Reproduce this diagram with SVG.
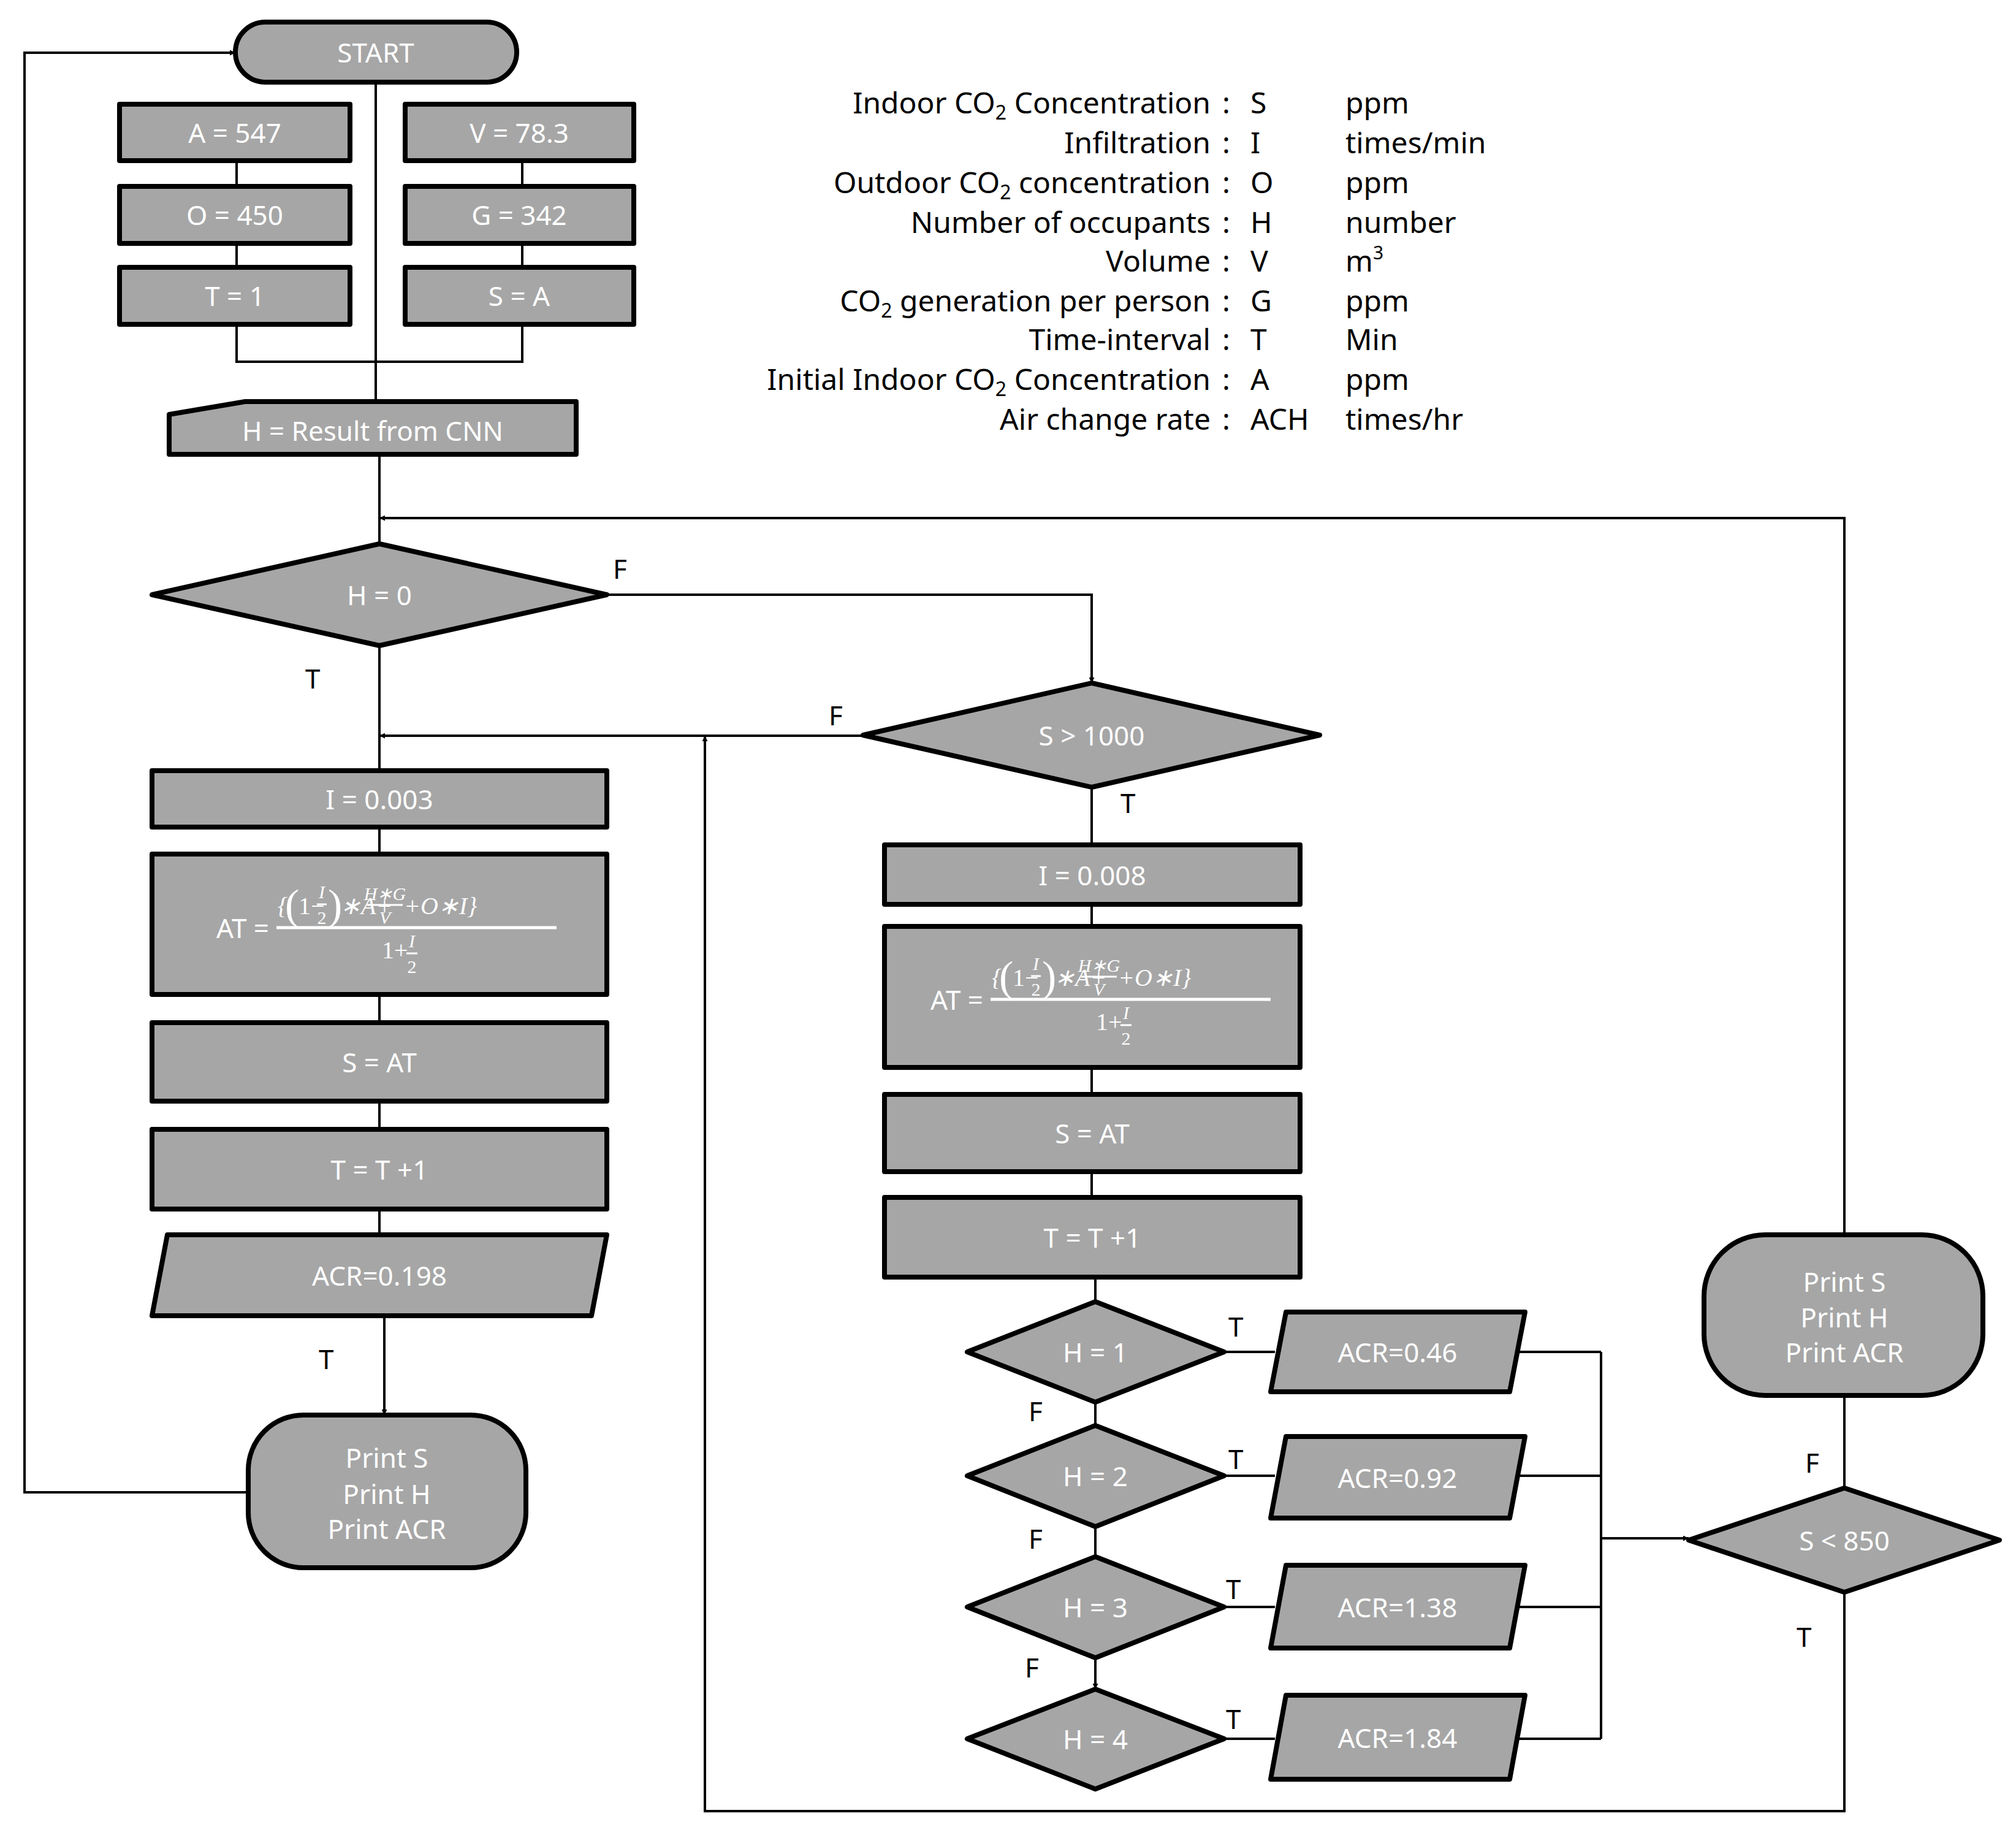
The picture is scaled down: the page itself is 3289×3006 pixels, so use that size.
<svg xmlns="http://www.w3.org/2000/svg" width="3289" height="3006" viewBox="0 0 3289 3006">
<style>
.n{fill:#a6a6a6;stroke:#000;stroke-width:8;stroke-linejoin:round}
.t{font-family:"Noto Sans","Open Sans",sans-serif;font-size:44px;fill:#fff;text-anchor:middle;dominant-baseline:central}
.l{font-family:"Noto Sans","Open Sans",sans-serif;font-size:44px;fill:#000;dominant-baseline:central}
.lg{font-family:"Noto Sans","Open Sans",sans-serif;font-size:48px;fill:#000}
.c{fill:none;stroke:#000;stroke-width:4}
.m{font-family:"Liberation Serif",serif;font-style:italic;font-size:40px;fill:#fff}
.ms{font-family:"Liberation Serif",serif;font-style:italic;font-size:30px;fill:#fff;text-anchor:middle}
.mb{stroke:#fff;stroke-width:5}
.mbs{stroke:#fff;stroke-width:3}
</style>
<defs>
<marker id="ah" viewBox="0 0 10 10" refX="10" refY="5" markerWidth="9" markerHeight="9" markerUnits="userSpaceOnUse" orient="auto"><path d="M0,0L10,5L0,10z" fill="#000"/></marker>
<g id="formula">
<text x="-12" y="0" class="t" style="text-anchor:end">AT =</text>
<line x1="0" y1="0" x2="457" y2="0" class="mb"/>
<text x="2" y="-22" class="m">{</text>
<text x="14" y="-14" class="m" style="font-size:70px;font-style:normal">(</text>
<text x="36" y="-22" class="m" style="font-style:normal">1−</text>
<text x="74" y="-48" class="ms">I</text>
<line x1="66" y1="-38" x2="82" y2="-38" class="mbs"/>
<text x="74" y="-6" class="ms" style="font-style:normal">2</text>
<text x="84" y="-14" class="m" style="font-size:70px;font-style:normal">)</text>
<text x="104" y="-22" class="m">∗A+</text>
<text x="177" y="-45" class="ms">H∗G</text>
<line x1="148" y1="-37" x2="206" y2="-37" class="mbs"/>
<text x="177" y="-6" class="ms">V</text>
<text x="208" y="-22" class="m">+O∗I}</text>
<text x="172" y="50" class="m" style="font-style:normal">1+</text>
<text x="221" y="32" class="ms">I</text>
<line x1="212" y1="42" x2="230" y2="42" class="mbs"/>
<text x="221" y="74" class="ms" style="font-style:normal">2</text>
</g>
</defs>

<g id="connectors">
<path class="c" d="M613,134V655"/>
<path class="c" d="M386,529V590H852V529"/>
<path class="c" d="M386,262V304M386,397V436M852,262V304M852,397V436"/>
<path class="c" d="M619,741V887"/>
<path class="c" d="M619,1053V1257"/>
<path class="c" d="M619,1349V1393M619,1622V1668M619,1796V1842M619,1972V2014"/>
<path class="c" d="M627,2146V2308" marker-end="url(#ah)"/>
<path class="c" d="M405,2434H40V86H384" marker-end="url(#ah)"/>
<path class="c" d="M3009,2014V845H619" marker-end="url(#ah)"/>
<path class="c" d="M990,970H1781V1114" marker-end="url(#ah)"/>
<path class="c" d="M1408,1200H619" marker-end="url(#ah)"/>
<path class="c" d="M3009,2597V2954H1150V1200" marker-end="url(#ah)"/>
<path class="c" d="M1781,1284V1378M1781,1475V1511M1781,1741V1785M1781,1911V1953M1787,2083V2123"/>
<path class="c" d="M1787,2287V2325M1787,2490V2539"/>
<path class="c" d="M1787,2704V2755" marker-end="url(#ah)"/>
<path class="c" d="M1997,2205H2080M1997,2407H2080M1997,2621H2080M1997,2836H2080"/>
<path class="c" d="M2478,2205H2612M2478,2407H2612M2478,2621H2612M2478,2836H2612M2612,2205V2836"/>
<path class="c" d="M2612,2509H2755" marker-end="url(#ah)"/>
<path class="c" d="M3009,2427V2276"/>
</g>

<g id="start"><rect class="n" x="384" y="36" width="459" height="98" rx="49"/><text class="t" x="613" y="85">START</text></g>
<g id="a"><rect class="n" x="195" y="170" width="376" height="92"/><text class="t" x="383" y="216">A = 547</text></g>
<g id="o"><rect class="n" x="195" y="304" width="376" height="93"/><text class="t" x="383" y="350">O = 450</text></g>
<g id="tt"><rect class="n" x="195" y="436" width="376" height="93"/><text class="t" x="383" y="482">T = 1</text></g>
<g id="v"><rect class="n" x="661" y="170" width="373" height="92"/><text class="t" x="847" y="216">V = 78.3</text></g>
<g id="g"><rect class="n" x="661" y="304" width="373" height="93"/><text class="t" x="847" y="350">G = 342</text></g>
<g id="s"><rect class="n" x="661" y="436" width="373" height="93"/><text class="t" x="847" y="482">S = A</text></g>
<g id="h"><path class="n" d="M276,676L400,655H940V741H276Z"/><text class="t" x="608" y="702">H = Result from CNN</text></g>

<g id="d0"><path class="n" d="M248,970L619,887L990,970L619,1053Z"/><text class="t" x="619" y="970">H = 0</text></g>
<g id="i1"><rect class="n" x="248" y="1257" width="742" height="92"/><text class="t" x="619" y="1303">I = 0.003</text></g>
<g id="at1"><rect class="n" x="248" y="1393" width="742" height="229"/><use href="#formula" transform="translate(451,1513)"/></g>
<g id="sa1"><rect class="n" x="248" y="1668" width="742" height="128"/><text class="t" x="619" y="1732">S = AT</text></g>
<g id="tp1"><rect class="n" x="248" y="1842" width="742" height="130"/><text class="t" x="619" y="1907">T = T +1</text></g>
<g id="acr1"><path class="n" d="M273,2014H990L965,2146H248Z"/><text class="t" x="619" y="2080">ACR=0.198</text></g>
<g id="p1"><rect class="n" x="405" y="2308" width="453" height="249" rx="90"/><text class="t" x="631" y="2377">Print S</text><text class="t" x="631" y="2436">Print H</text><text class="t" x="631" y="2493">Print ACR</text></g>

<g id="d1000"><path class="n" d="M1408,1199L1781,1114L2153,1199L1781,1284Z"/><text class="t" x="1781" y="1199">S &gt; 1000</text></g>
<g id="i2"><rect class="n" x="1443" y="1378" width="678" height="97"/><text class="t" x="1782" y="1427">I = 0.008</text></g>
<g id="at2"><rect class="n" x="1443" y="1511" width="678" height="230"/><use href="#formula" transform="translate(1616,1630)"/></g>
<g id="sa2"><rect class="n" x="1443" y="1785" width="678" height="126"/><text class="t" x="1782" y="1848">S = AT</text></g>
<g id="tp2"><rect class="n" x="1443" y="1953" width="678" height="130"/><text class="t" x="1782" y="2018">T = T +1</text></g>

<g id="dh1"><path class="n" d="M1578,2205L1787,2123L1997,2205L1787,2287Z"/><text class="t" x="1787" y="2205">H = 1</text></g>
<g id="dh2"><path class="n" d="M1578,2407L1787,2325L1997,2407L1787,2490Z"/><text class="t" x="1787" y="2407">H = 2</text></g>
<g id="dh3"><path class="n" d="M1578,2621L1787,2539L1997,2621L1787,2704Z"/><text class="t" x="1787" y="2621">H = 3</text></g>
<g id="dh4"><path class="n" d="M1578,2836L1787,2755L1997,2836L1787,2918Z"/><text class="t" x="1787" y="2836">H = 4</text></g>
<g id="r1"><path class="n" d="M2098,2140H2488L2463,2270H2073Z"/><text class="t" x="2280" y="2205">ACR=0.46</text></g>
<g id="r2"><path class="n" d="M2098,2343H2488L2463,2476H2073Z"/><text class="t" x="2280" y="2410">ACR=0.92</text></g>
<g id="r3"><path class="n" d="M2098,2553H2488L2463,2688H2073Z"/><text class="t" x="2280" y="2621">ACR=1.38</text></g>
<g id="r4"><path class="n" d="M2098,2765H2488L2463,2902H2073Z"/><text class="t" x="2280" y="2834">ACR=1.84</text></g>
<g id="d850"><path class="n" d="M2755,2512L3009,2427L3262,2512L3009,2597Z"/><text class="t" x="3009" y="2512">S &lt; 850</text></g>
<g id="p2"><rect class="n" x="2780" y="2014" width="455" height="262" rx="100"/><text class="t" x="3009" y="2090">Print S</text><text class="t" x="3009" y="2148">Print H</text><text class="t" x="3009" y="2205">Print ACR</text></g>

<g id="labels">
<text class="l" x="1000" y="927">F</text>
<text class="l" x="498" y="1106">T</text>
<text class="l" x="1352" y="1166">F</text>
<text class="l" x="1828" y="1309">T</text>
<text class="l" x="520" y="2216">T</text>
<text class="l" x="2004" y="2163">T</text>
<text class="l" x="2004" y="2379">T</text>
<text class="l" x="2000" y="2591">T</text>
<text class="l" x="2000" y="2803">T</text>
<text class="l" x="1678" y="2301">F</text>
<text class="l" x="1678" y="2509">F</text>
<text class="l" x="1672" y="2719">F</text>
<text class="l" x="2945" y="2385">F</text>
<text class="l" x="2931" y="2669">T</text>
</g>

<g id="legend" class="lg">
<text x="1975" y="185" text-anchor="end">Indoor CO<tspan font-size="32" dy="10">2</tspan><tspan dy="-10"> Concentration</tspan></text>
<text x="1975" y="250" text-anchor="end">Infiltration</text>
<text x="1975" y="315" text-anchor="end">Outdoor CO<tspan font-size="32" dy="10">2</tspan><tspan dy="-10"> concentration</tspan></text>
<text x="1975" y="380" text-anchor="end">Number of occupants</text>
<text x="1975" y="443" text-anchor="end">Volume</text>
<text x="1975" y="508" text-anchor="end">CO<tspan font-size="32" dy="10">2</tspan><tspan dy="-10"> generation per person</tspan></text>
<text x="1975" y="571" text-anchor="end">Time-interval</text>
<text x="1975" y="636" text-anchor="end">Initial Indoor CO<tspan font-size="32" dy="10">2</tspan><tspan dy="-10"> Concentration</tspan></text>
<text x="1975" y="701" text-anchor="end">Air change rate</text>
<text x="1994" y="185">:</text><text x="1994" y="250">:</text><text x="1994" y="315">:</text><text x="1994" y="380">:</text><text x="1994" y="443">:</text><text x="1994" y="508">:</text><text x="1994" y="571">:</text><text x="1994" y="636">:</text><text x="1994" y="701">:</text>
<text x="2040" y="185">S</text><text x="2040" y="250">I</text><text x="2040" y="315">O</text><text x="2040" y="380">H</text><text x="2040" y="443">V</text><text x="2040" y="508">G</text><text x="2040" y="571">T</text><text x="2040" y="636">A</text><text x="2040" y="701">ACH</text>
<text x="2195" y="185">ppm</text><text x="2195" y="250">times/min</text><text x="2195" y="315">ppm</text><text x="2195" y="380">number</text>
<text x="2195" y="443">m<tspan font-size="30" dy="-20">3</tspan></text>
<text x="2195" y="508">ppm</text><text x="2195" y="571">Min</text><text x="2195" y="636">ppm</text><text x="2195" y="701">times/hr</text>
</g>
</svg>
